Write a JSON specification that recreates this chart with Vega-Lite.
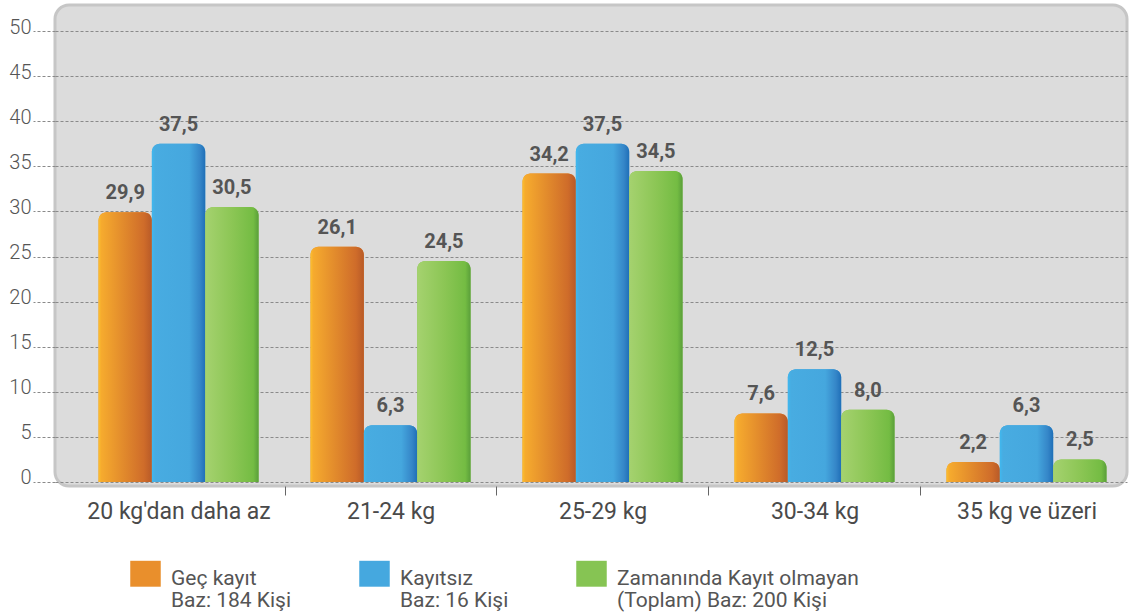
{
  "$schema": "https://vega.github.io/schema/vega-lite/v6.json",
  "autosize": "none",
  "width": 1072,
  "height": 481,
  "padding": {"left": 55, "top": 5, "right": 3, "bottom": 128},
  "background": "#ffffff",
  "config": {
    "locale": {"number": {"decimal": ",", "thousands": ".", "grouping": [3], "currency": ["", ""]}},
    "font": "Roboto, sans-serif",
    "view": {"fill": "#dcdcdc", "stroke": "#c6c6c6", "strokeWidth": 3, "cornerRadius": 14}
  },
  "data": {
    "values": [
      {"k": "20 kg'dan daha az", "s": "Geç  kayıt", "v": 29.9},
      {"k": "20 kg'dan daha az", "s": "Kayıtsız", "v": 37.5},
      {"k": "20 kg'dan daha az", "s": "Zamanında Kayıt olmayan", "v": 30.5},
      {"k": "21-24 kg", "s": "Geç  kayıt", "v": 26.1},
      {"k": "21-24 kg", "s": "Kayıtsız", "v": 6.3},
      {"k": "21-24 kg", "s": "Zamanında Kayıt olmayan", "v": 24.5},
      {"k": "25-29 kg", "s": "Geç  kayıt", "v": 34.2},
      {"k": "25-29 kg", "s": "Kayıtsız", "v": 37.5},
      {"k": "25-29 kg", "s": "Zamanında Kayıt olmayan", "v": 34.5},
      {"k": "30-34 kg", "s": "Geç  kayıt", "v": 7.6},
      {"k": "30-34 kg", "s": "Kayıtsız", "v": 12.5},
      {"k": "30-34 kg", "s": "Zamanında Kayıt olmayan", "v": 8.0},
      {"k": "35 kg ve üzeri", "s": "Geç  kayıt", "v": 2.2},
      {"k": "35 kg ve üzeri", "s": "Kayıtsız", "v": 6.3},
      {"k": "35 kg ve üzeri", "s": "Zamanında Kayıt olmayan", "v": 2.5}
    ]
  },
  "encoding": {
    "x": {
      "field": "k", "type": "nominal", "sort": null,
      "scale": {"paddingInner": 0.245, "paddingOuter": 0.151, "align": 0.68},
      "axis": {
        "title": null, "labelAngle": 0, "domain": false, "grid": false,
        "bandPosition": 0, "tickOffset": -26, "labelOffset": 26,
        "tickOpacity": {"condition": {"test": "datum.value == \"20 kg'dan daha az\"", "value": 0}, "value": 1},
        "tickSize": 9, "tickColor": "#666666", "tickWidth": 1,
        "labelFontSize": 23, "labelFontWeight": "normal", "labelLimit": 400, "labelColor": "#4a4a4a", "labelPadding": 5, "labelBaseline": "top"
      }
    },
    "xOffset": {"field": "s", "type": "nominal", "sort": null, "scale": {"paddingInner": 0, "paddingOuter": 0}},
    "y": {
      "field": "v", "type": "quantitative",
      "scale": {"domain": [-0.45, 52.9], "nice": false, "zero": false},
      "axis": {
        "title": null, "values": [0, 5, 10, 15, 20, 25, 30, 35, 40, 45, 50],
        "domain": false, "gridDash": [3, 2], "gridColor": "#8a8a8a", "gridWidth": 1,
        "tickSize": 22, "tickDash": [3, 2], "tickColor": "#8a8a8a",
        "labelFontSize": 20, "labelFontWeight": 300, "labelColor": "#555555", "labelPadding": 2,
        "labelBaseline": "alphabetic", "labelOffset": 2
      }
    }
  },
  "layer": [
    {
      "mark": {"type": "bar", "cornerRadiusTopLeft": 8, "cornerRadiusTopRight": 8},
      "encoding": {
        "y2": {"datum": 0},
        "fill": {
          "field": "s", "type": "nominal", "sort": null,
          "scale": {"range": ["#e98f2c", "#45a8df", "#86c453"]},
          "legend": {
            "title": null, "orient": "none", "legendX": 75, "legendY": 553,
            "direction": "horizontal", "columnPadding": 67,
            "symbolType": "M-1,-0.85H1V0.85H-1Z", "symbolSize": 930, "symbolStrokeWidth": 0,
            "labelFontSize": 21, "labelColor": "#555555", "labelOffset": 10, "labelLimit": 320,
            "labelExpr": "datum.label == 'Geç  kayıt' ? ['Geç  kayıt', 'Baz: 184 Kişi'] : datum.label == 'Kayıtsız' ? ['Kayıtsız', 'Baz: 16 Kişi'] : ['Zamanında Kayıt olmayan', '(Toplam) Baz: 200 Kişi']",
            "encode": {
              "labels": {"update": {"lineHeight": {"value": 22}, "dy": {"value": 5}}},
              "symbols": {"update": {"fill": {"signal": "datum.value == 'Geç  kayıt' ? {gradient: 'linear', stops: [{offset: 0, color: '#f8b32f'}, {offset: 1, color: '#c65f2a'}]} : datum.value == 'Kayıtsız' ? {gradient: 'linear', stops: [{offset: 0, color: '#48ade2'}, {offset: 0.8, color: '#45a8df'}, {offset: 1, color: '#2f7fc2'}]} : {gradient: 'linear', stops: [{offset: 0, color: '#a3d16c'}, {offset: 1, color: '#6fba40'}]}"}}}
            }
          }
        }
      }
    },
    {
      "mark": {"type": "bar", "cornerRadiusTopLeft": 8, "cornerRadiusTopRight": 8},
      "encoding": {
        "y2": {"datum": 0},
        "fill": {
          "condition": [
            {"test": "datum.s == 'Geç  kayıt'", "value": {"gradient": "linear", "x1": 0, "x2": 1, "y1": 0, "y2": 0, "stops": [{"offset": 0, "color": "#fbc02f"}, {"offset": 0.05, "color": "#f6ab2e"}, {"offset": 0.85, "color": "#cf6c2a"}, {"offset": 1, "color": "#b85a28"}]}},
            {"test": "datum.s == 'Kayıtsız'", "value": {"gradient": "linear", "x1": 0, "x2": 1, "y1": 0, "y2": 0, "stops": [{"offset": 0, "color": "#3fb8ef"}, {"offset": 0.06, "color": "#48ace1"}, {"offset": 0.7, "color": "#45a7de"}, {"offset": 0.9, "color": "#3586c8"}, {"offset": 1, "color": "#1f6fb8"}]}}
          ],
          "value": {"gradient": "linear", "x1": 0, "x2": 1, "y1": 0, "y2": 0, "stops": [{"offset": 0, "color": "#a5d26f"}, {"offset": 0.5, "color": "#8cc655"}, {"offset": 0.9, "color": "#74bc43"}, {"offset": 1, "color": "#5a9f3a"}]}
        }
      }
    },
    {
      "mark": {"type": "text", "dy": -13, "baseline": "alphabetic", "fontSize": 20, "fontWeight": "bold", "color": "#555555"},
      "encoding": {
        "text": {"field": "v", "type": "quantitative", "format": ".1f"}
      }
    }
  ]
}
